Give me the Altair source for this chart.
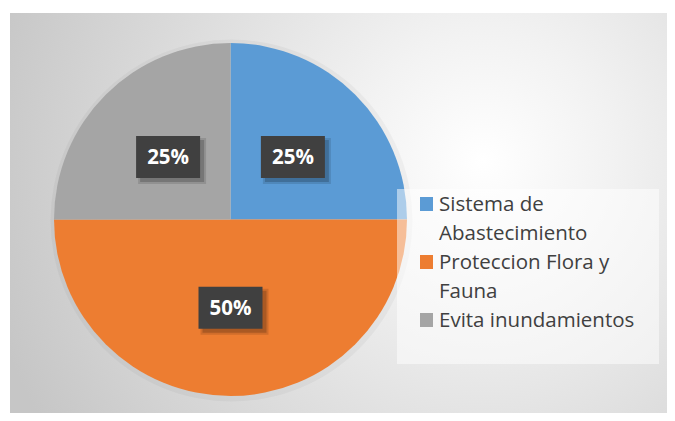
import altair as alt
import pandas as pd

# ---- data ----
categories = ["Sistema de Abastecimiento", "Proteccion Flora y Fauna", "Evita inundamientos"]
values = [25, 50, 25]
colors = ["#5B9BD5", "#ED7D31", "#A5A5A5"]
legend_lines = [["Sistema de", "Abastecimiento"], ["Proteccion Flora y", "Fauna"], ["Evita inundamientos"]]

pie_df = pd.DataFrame({"category": categories, "value": values, "idx": list(range(len(categories)))})

rows = []
sym_rows = []
r = 0
for i, (cat, lines) in enumerate(zip(categories, legend_lines)):
    sym_rows.append({"category": cat, "row": r})
    for ln in lines:
        rows.append({"category": cat, "line": ln, "row": r})
        r += 1
leg_text_df = pd.DataFrame(rows)
leg_sym_df = pd.DataFrame(sym_rows)

# ---- layout (pixels in plot coords) ----
W, H = 659, 405
CX, CY, R = 222.5, 211.5, 176.5
LR = R / 2
BW, BH = 64, 42
FONT = "Open Sans"

color_scale = alt.Scale(domain=categories, range=colors)

bg = alt.Chart(alt.Data(values=[{}])).mark_rect(
    fill=alt.RadialGradient(
        gradient="radial",
        x1=0.72, y1=0.42, r1=0.0,
        x2=0.72, y2=0.42, r2=0.78,
        stops=[alt.GradientStop(color="#ffffff", offset=0),
               alt.GradientStop(color="#f2f2f2", offset=0.25),
               alt.GradientStop(color="#c6c6c6", offset=1)],
    )
).encode(x=alt.value(2), x2=alt.value(W), y=alt.value(5), y2=alt.value(H))

halo = alt.Chart(alt.Data(values=[{}])).mark_arc(
    theta=0, theta2=6.2832, radius=181, color="#000000", opacity=0.035
).encode(x=alt.value(CX + 1), y=alt.value(CY + 1))

pie = alt.Chart(pie_df).mark_arc(radius=R).encode(
    theta=alt.Theta("value:Q", stack=True),
    color=alt.Color("category:N", scale=color_scale, legend=None),
    order=alt.Order("idx:Q"),
    x=alt.value(CX), y=alt.value(CY),
)

legend_box = alt.Chart(alt.Data(values=[{}])).mark_rect(
    fill="#ffffff", opacity=0.5
).encode(x=alt.value(389), x2=alt.value(651), y=alt.value(181), y2=alt.value(356))

lab_base = alt.Chart(pie_df).transform_window(
    cum="sum(value)", sort=[alt.SortField("idx")], frame=[None, 0]
).transform_joinaggregate(total="sum(value)").transform_calculate(
    mid="(datum.cum - datum.value/2)/datum.total*2*PI",
    px=f"{CX}+{LR}*sin(datum.mid)",
    py=f"{CY}-{LR}*cos(datum.mid)",
    label="format(datum.value/datum.total, '.0%')",
    bx1=f"datum.px-{BW/2}", bx2=f"datum.px+{BW/2}",
    by1=f"datum.py-{BH/2}", by2=f"datum.py+{BH/2}",
    sx1=f"datum.px-{BW/2}+4", sx2=f"datum.px+{BW/2}+4",
    sy1=f"datum.py-{BH/2}+4", sy2=f"datum.py+{BH/2}+4",
    tx1=f"datum.px-{BW/2}+2", tx2=f"datum.px+{BW/2}+6",
    ty1=f"datum.py-{BH/2}+2", ty2=f"datum.py+{BH/2}+6",
)

shadow2 = lab_base.mark_rect(color="#000000", opacity=0.12).encode(
    x=alt.X("tx1:Q", scale=None), x2="tx2:Q", y=alt.Y("ty1:Q", scale=None), y2="ty2:Q")
shadow = lab_base.mark_rect(color="#000000", opacity=0.18).encode(
    x=alt.X("sx1:Q", scale=None), x2="sx2:Q", y=alt.Y("sy1:Q", scale=None), y2="sy2:Q")
box = lab_base.mark_rect(color="#404040").encode(
    x=alt.X("bx1:Q", scale=None), x2="bx2:Q", y=alt.Y("by1:Q", scale=None), y2="by2:Q")
lab_text = lab_base.mark_text(
    font=FONT, fontSize=20.5, fontWeight="bold", color="#ffffff", align="center", baseline="middle", dy=1
).encode(x=alt.X("px:Q", scale=None), y=alt.Y("py:Q", scale=None), text="label:N")

leg_sym = alt.Chart(leg_sym_df).transform_calculate(
    y1="189 + 29*datum.row", y2="203 + 29*datum.row"
).mark_rect().encode(
    x=alt.value(412), x2=alt.value(425),
    y=alt.Y("y1:Q", scale=None), y2="y2:Q",
    color=alt.Color("category:N", scale=color_scale, legend=None),
)

leg_text = alt.Chart(leg_text_df).transform_calculate(
    yb="203 + 29*datum.row"
).mark_text(
    font=FONT, fontSize=20.5, color="#404040", align="left", baseline="alphabetic"
).encode(x=alt.value(431), y=alt.Y("yb:Q", scale=None), text="line:N")

chart = alt.layer(
    bg, halo, pie, legend_box, shadow2, shadow, box, lab_text, leg_sym, leg_text
).properties(
    width=W, height=H, padding=0, autosize=alt.AutoSizeParams(type="none"),
    background="#ffffff"
).configure_view(stroke=None)

chart.save("out.html", embed_options={"renderer": "svg", "actions": False})
